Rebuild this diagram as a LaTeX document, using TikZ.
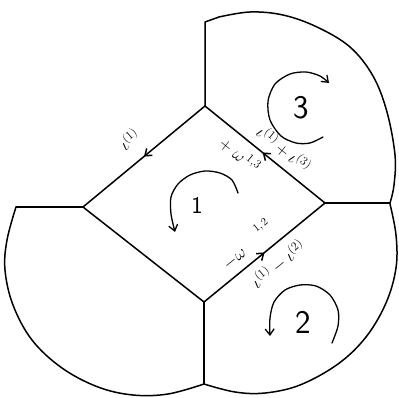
\documentclass[tikz,border=0pt]{standalone}
\usetikzlibrary{arrows.meta,decorations.markings}
\begin{document}
\begin{tikzpicture}[x=1pt,y=-1pt, line width=1.5pt, line join=round, line cap=round,
  circarrow/.style={line width=1.3pt, -{Straight Barb[length=6pt,width=9pt]}},
  midarrow/.style={postaction={decorate}, decoration={markings, mark=at position #1 with {\arrow{Straight Barb[length=6pt,width=9pt]}}}},
  lab/.style={font=\fontsize{17}{19}\selectfont, inner sep=0pt},
  suplab/.style={font=\fontsize{11}{13}\selectfont, inner sep=0pt},
  bigdigit/.style={font=\sffamily\fontsize{33}{36}\selectfont, inner sep=0pt},
  middigit/.style={font=\sffamily\fontsize{24}{26}\selectfont, inner sep=0pt}]
\useasboundingbox (0,0) rectangle (399,397);
\coordinate (T) at (205,106);
\coordinate (L) at (83,207);
\coordinate (R) at (325,203);
\coordinate (B) at (204,302);
\coordinate (T3) at (205,22);
\coordinate (R3) at (390,203);
\coordinate (B2) at (204,384);
\coordinate (L1) at (16,207);
% diamond
\draw[midarrow=0.5] (T) -- (L);
\draw[midarrow=0.52] (R) -- (T);
\draw[midarrow=0.5] (B) -- (R);
\draw (L) -- (B);
% spokes
\draw (T) -- (T3) -- (219,17);
\draw (R) -- (R3);
\draw (B) -- (B2);
\draw (L) -- (L1);
% outer arcs
\draw plot[smooth, tension=0.6] coordinates {(219,17) (250,12) (283,15) (317,27) (350,47) (373,76) (387,112) (395,155) (394,185) (390,203)};
\draw plot[smooth, tension=0.6] coordinates {(390,204) (396,235) (396,268) (386,303) (366,337) (338,364) (300,385) (265,393) (235,392) (204,384)};
\draw plot[smooth, tension=0.6] coordinates {(16,207) (7,240) (5,270) (13,305) (32,340) (62,368) (98,387) (133,395) (168,394) (204,384)};
% circular arrows
\draw[circarrow] plot[smooth] coordinates {(238,193) (232,180) (220,173) (205,171) (190,175) (178,184) (171,197) (171,214) (175,232)};
\draw[circarrow] plot[smooth] coordinates {(323,137) (310,143) (296,143) (281,136) (270,120) (268,101) (275,84) (290,74) (306,72) (320,76) (329,83)};
\draw[circarrow] plot[smooth] coordinates {(332,343) (338,326) (338,310) (330,295) (316,286) (300,285) (285,290) (274,302) (270,318) (270,336)};
% region labels
\node[middigit] (n1) at (197,205) {1};
\node[bigdigit] (n3) at (301,108) {3};
\node[bigdigit] (n2) at (303,322) {2};
% edge labels
\node[lab, rotate=40] (a1) at (129,139) {$\iota^{(1)}$};
\node[lab, rotate=-39] (b1) at (240,155) {$+\;\omega^{\,1,3}$};
\node[lab, rotate=-39] (c1) at (284,149) {$\iota^{(1)}+\iota^{(3)}$};
\node[lab, rotate=39] (d1) at (235,259) {$-\omega$};
\node[suplab, rotate=39] (d3) at (261,226) {$1,2$};
\node[lab, rotate=39] (e1) at (278,264) {$\iota^{(1)}-\iota^{(2)}$};
\end{tikzpicture}
\end{document}
